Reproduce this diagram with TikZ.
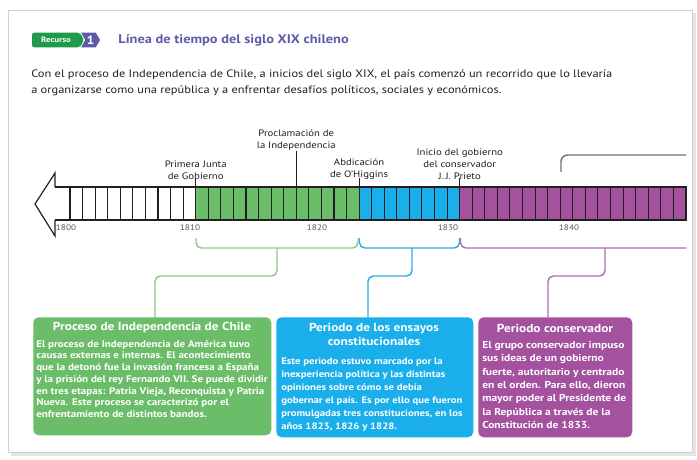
\documentclass[tikz,border=0pt]{standalone}
\usepackage{fontspec}
\setmainfont{PT Sans}[FakeStretch=1.15]
\usetikzlibrary{shapes.symbols}
\definecolor{cgreen}{HTML}{6CBD69}
\definecolor{cblue}{HTML}{1AAFEA}
\definecolor{cpurple}{HTML}{A4519F}
\definecolor{bgreen}{HTML}{8DCB86}
\definecolor{bblue}{HTML}{2AAEE6}
\definecolor{bpurple}{HTML}{B46BB0}
\definecolor{ctitle}{HTML}{5B5BA8}
\definecolor{cbadge}{HTML}{1F9A4B}
\definecolor{ink}{HTML}{231F20}
\tikzset{
  lbl/.style={inner sep=0pt, align=center, text=ink, font=\fontsize{7}{9.2}\selectfont},
  yearlbl/.style={inner sep=0pt, text=black!65, font=\fontsize{6}{7}\selectfont},
  boxbg/.style={draw=none, rounded corners=4pt, anchor=north west, inner sep=0pt},
  boxtitle/.style={inner sep=0pt, align=center, text=white, font=\bfseries\fontsize{8.7}{11}\selectfont},
  boxbody/.style={inner sep=0pt, align=left, text=white, anchor=north west},
  brk/.style={line width=1.1pt, rounded corners=4pt},
  cellline/.style={line width=0.8pt, draw=ink},
}
\begin{document}
\begin{tikzpicture}[x=0.75pt,y=-0.75pt]
\useasboundingbox (0,0) rectangle (697,460);
\fill[white] (0,0) rectangle (697,460);
% card
\fill[black!10] (11,13) rectangle (696,456);
\fill[white] (8,10) rectangle (692,452);
\draw[black!18, line width=0.5pt] (8,10) rectangle (692,452);

% header
\node[signal, signal to=east, signal pointer angle=120, fill=cbadge, text=white, rounded corners=1.5pt,
      font=\bfseries\fontsize{5.8}{7}\selectfont, minimum height=11pt, minimum width=39pt, inner xsep=3pt, inner ysep=1pt] (rec) at (56,40) {Recurso};
\node[signal, signal from=west, signal pointer angle=120, fill=ctitle, text=white,
      font=\bfseries\fontsize{9}{9}\selectfont, minimum height=11pt, minimum width=12pt, inner sep=1pt, anchor=west] (num) at (85,40) {1};
\node[anchor=west, inner sep=0pt, text=ctitle, font=\bfseries\fontsize{9.4}{11}\selectfont] (title) at (118,40) {Línea de tiempo del siglo XIX chileno};
\node[anchor=north west, inner sep=0pt, align=left, text=ink, font=\fontsize{8.1}{12}\selectfont] (intro) at (31,69)
  {Con el proceso de Independencia de Chile, a inicios del siglo XIX, el país comenzó un recorrido que lo llevaría\\
   a organizarse como una república y a enfrentar desafíos políticos, sociales y económicos.};

% timeline fills
\fill[white] (55,187) rectangle (195.7,220);
\fill[cgreen] (195.7,187) rectangle (359.1,220);
\fill[cblue] (359.1,187) rectangle (459.7,220);
\fill[cpurple] (459.7,187) rectangle (685.9,220);
\foreach \i in {0,...,49} {
  \draw[cellline] ({70+\i*12.57},187) -- ({70+\i*12.57},220);
}
\draw[line width=0.9pt, draw=ink, fill=white, line join=miter]
  (55,187) -- (55,173) -- (35,204) -- (55,236) -- (55,220);
\draw[line width=0.9pt, draw=ink] (55,187) -- (685.9,187) -- (685.9,220) -- (55,220);

% event labels and markers
\node[lbl, anchor=south] (e1810) at (195.7,180) {Primera Junta\\de Gobierno};
\node[lbl, anchor=south] (e1818) at (296.3,151) {Proclamación de\\la Independencia};
\node[lbl, anchor=south] (e1823) at (359.1,180) {Abdicación\\de O'Higgins};
\node[lbl, anchor=south] (e1831) at (459.7,180) {Inicio del gobierno\\del conservador\\J.\,J. Prieto};
\coordinate (m1810) at (195.7,187);
\coordinate (m1818) at (296.3,187);
\coordinate (m1823) at (359.1,187);
\coordinate (m1831) at (459.7,187);
\draw[cellline] (m1810) -- ++(0,-9);
\draw[cellline] (m1818) -- (e1818.south);
\draw[cellline] (m1823) -- ++(0,-9);
\draw[cellline] (m1831) -- ++(0,-9);

% year labels
\node[yearlbl] (y1800) at (66,228) {1800};
\node[yearlbl] (y1810) at (190,228) {1810};
\node[yearlbl] (y1820) at (317,228) {1820};
\node[yearlbl] (y1830) at (448,228) {1830};
\node[yearlbl] (y1840) at (569,228) {1840};

% gray bracket top right
\coordinate (g1) at (561,172);
\coordinate (g2) at (686,155);
\draw[black!55, line width=1.1pt, rounded corners=5pt] (g1) |- (g2);

% boxes
\node[boxbg, fill=cgreen, minimum width=178.5pt, minimum height=88.5pt] (gbox) at (33,317) {};
\node[boxbg, fill=cblue, minimum width=147.75pt, minimum height=90pt] (bbox) at (276,317) {};
\node[boxbg, fill=cpurple, minimum width=115.5pt, minimum height=90pt] (pbox) at (478,317) {};

% brackets below the bar
\coordinate (gs) at (196,238); \coordinate (ge) at (358,238);
\coordinate (bs) at (359.5,238); \coordinate (be) at (459.5,238);
\coordinate (ps) at (460.5,238); \coordinate (pe) at (686,248);
\draw[bgreen, brk] (gs) |- (277,248) -| (ge);
\draw[bblue, brk] (bs) |- (412,248) -| (be);
\draw[bpurple, brk] (ps) |- (pe);
% stems to boxes
\coordinate (gt) at (155,317);
\coordinate (bt) at (368,317);
\coordinate (pt) at (548,317);
\draw[bgreen, brk] (277,248) -- (277,276) -| (gt);
\draw[bblue, brk] (412,248) -- (412,276) -| (bt);
\draw[bpurple, brk] (605,248) -- (605,276) -| (pt);

% box texts
\node[boxtitle] (gtitle) at (152,328) {Proceso de Independencia de Chile};
\node[boxbody, font=\bfseries\fontsize{7.2}{8.8}\selectfont] (gbody) at (36,340)
  {El proceso de Independencia de América tuvo\\
   causas externas e internas. El acontecimiento\\
   que la detonó fue la invasión francesa a España\\
   y la prisión del rey Fernando VII. Se puede dividir\\
   en tres etapas: Patria Vieja, Reconquista y Patria\\
   Nueva. Este proceso se caracterizó por el\\
   enfrentamiento de distintos bandos.};

\node[boxtitle] (btitle) at (374,334.5) {Periodo de los ensayos\\constitucionales};
\node[boxbody, font=\bfseries\fontsize{7}{9.8}\selectfont] (bbody) at (281,357.5)
  {Este periodo estuvo marcado por la\\
   inexperiencia política y las distintas\\
   opiniones sobre cómo se debía\\
   gobernar el país. Es por ello que fueron\\
   promulgadas tres constituciones, en los\\
   años 1823, 1826 y 1828.};

\node[boxtitle] (ptitle) at (555,328) {Periodo conservador};
\node[boxbody, font=\bfseries\fontsize{7.5}{10}\selectfont] (pbody) at (482,341)
  {El grupo conservador impuso\\
   sus ideas de un gobierno\\
   fuerte, autoritario y centrado\\
   en el orden. Para ello, dieron\\
   mayor poder al Presidente de\\
   la República a través de la\\
   Constitución de 1833.};
\end{tikzpicture}
\end{document}
